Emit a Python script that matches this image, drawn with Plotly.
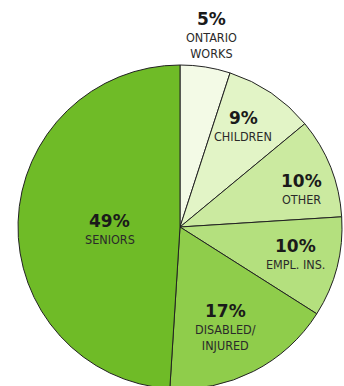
import math
import plotly.graph_objects as go

# ---- data ----
categories = ["ONTARIO<br>WORKS", "CHILDREN", "OTHER", "EMPL. INS.", "DISABLED/<br>INJURED", "SENIORS"]
shares = [5, 9, 10, 10, 17, 49]
pct_labels = ["5%", "9%", "10%", "10%", "17%", "49%"]

# ---- styles ----
colors = ["#f3fae6", "#e2f4c6", "#cbeaa0", "#b4e07e", "#8fcd4b", "#6fbb27"]
label_radius = [1.30, 0.78, 0.805, 0.725, 0.59, 0.435]   # fraction of pie radius
label_angle_shift = [-0.5, -4.2, 0.9, -5.1, -1.2, 3.1]   # degrees

W, H = 344, 400
cx, cy, R = 180, 227, 162  # pie centre / radius in pixels

fig = go.Figure(go.Pie(
    labels=categories,
    values=shares,
    sort=False,
    direction="clockwise",
    rotation=0,
    textinfo="none",
    hoverinfo="label+percent",
    marker=dict(colors=colors, line=dict(color="#222222", width=1)),
    domain=dict(x=[(cx - R) / W, (cx + R) / W],
                y=[1 - (cy + R) / H, 1 - (cy - R) / H]),
    showlegend=False,
))

total = sum(shares)
cum = 0
annotations = []
for i, v in enumerate(shares):
    mid = (cum + v / 2) / total * 360 + label_angle_shift[i]
    cum += v
    a = math.radians(mid)
    px = cx + label_radius[i] * R * math.sin(a)
    py = cy - label_radius[i] * R * math.cos(a)
    annotations.append(dict(
        x=px / W, y=1 - py / H, xref="paper", yref="paper",
        text="<b>" + pct_labels[i] + "</b>", showarrow=False,
        xanchor="center", yanchor="middle",
        font=dict(family="DejaVu Sans", size=17, color="#1a1a1a"),
    ))
    annotations.append(dict(
        x=px / W, y=1 - py / H, xref="paper", yref="paper",
        text=categories[i], showarrow=False,
        xanchor="center", yanchor="top", yshift=-9,
        font=dict(family="DejaVu Sans Condensed, DejaVu Sans", size=12.5, color="#2a2a2a"),
    ))

fig.update_layout(
    width=W, height=H,
    margin=dict(l=0, r=0, t=0, b=0),
    paper_bgcolor="white",
    plot_bgcolor="white",
    annotations=annotations,
)

fig.write_html(
    "out.html",
    config={"displayModeBar": False},
    post_script="document.body.style.margin='0';document.body.style.overflow='hidden';document.documentElement.style.overflow='hidden';",
)
